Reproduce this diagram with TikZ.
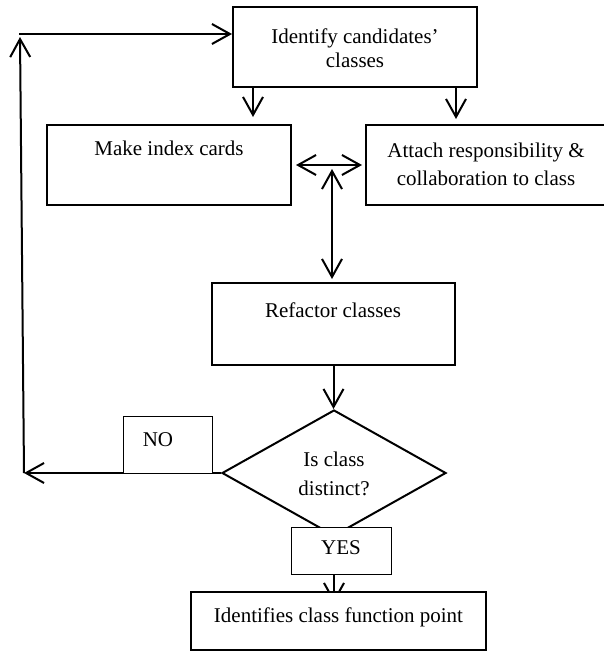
\documentclass[tikz,border=0pt]{standalone}
\usepackage{fontspec}
\setmainfont{Liberation Serif}
\usetikzlibrary{arrows.meta,shapes.geometric}
\begin{document}
\begin{tikzpicture}[x=1pt,y=-1pt,
  box/.style={draw,line width=2pt,fill=white,inner sep=0pt,rectangle},
  lbl/.style={draw,line width=1pt,fill=white,inner sep=0pt,rectangle},
  txt/.style={inner sep=0pt,font=\fontsize{21}{24}\selectfont,align=center},
  arr/.style={line width=2pt,-{Straight Barb[length=18pt,width=20pt]}},
  darr/.style={line width=2pt,{Straight Barb[length=18pt,width=20pt]}-{Straight Barb[length=18pt,width=20pt]}}]
\useasboundingbox (0,0) rectangle (604,653);
% boxes
\node[box,minimum width=244pt,minimum height=80pt] (idc) at (355,47) {};
\node[box,minimum width=244pt,minimum height=80pt] (mic) at (169,165) {};
\node[box,minimum width=240pt,minimum height=80pt] (att) at (486,165) {};
\node[box,minimum width=243pt,minimum height=82pt] (ref) at (333.5,324) {};
\node[draw,diamond,line width=2pt,inner sep=0pt,minimum width=224pt,minimum height=126pt] (dia) at (334,473) {};
% free ends
\coordinate (tl) at (19,34);
\coordinate (lt) at (20,37);
\coordinate (bl) at (24,473);
\coordinate (d1) at (253,117);
\coordinate (d2) at (456,119);
\coordinate (v1) at (332,169);
\coordinate (ftip) at (334,603);
% connectors
\draw[arr] (bl) -- (lt);
\draw[arr] (tl) -- (tl -| idc.west);
\draw[arr] (idc.south -| d1) -- (d1);
\draw[arr] (idc.south -| d2) -- (d2);
\draw[darr,shorten <=4pt,shorten >=3pt] (mic.east) -- (att.west);
\draw[darr,shorten >=3pt] (v1) -- (v1 |- ref.north);
\draw[arr] (ref.south) -- (ref.south |- dia.north);
\draw[arr] (dia.west) -- (bl);
% labels on branches
\node[lbl,minimum width=89pt,minimum height=57pt] (no) at (167.5,444.5) {};
\node[lbl,minimum width=100pt,minimum height=47pt] (yes) at (341,550.5) {};
\draw[arr] (dia.south |- yes.south) -- (ftip);
\node[box,minimum width=295pt,minimum height=58pt] (fin) at (338.5,621) {};
% texts
\node[txt] (t1) at (355,48) {Identify candidates’\\classes};
\node[txt,anchor=base] (t2) at (169,155) {Make index cards};
\node[txt,font=\fontsize{21}{28}\selectfont] (t3) at (486,164) {Attach responsibility \&\\collaboration to class};
\node[txt,anchor=base] (t4) at (333,317) {Refactor classes};
\node[txt,font=\fontsize{21}{29}\selectfont] (t5) at (334,474) {Is class\\distinct?};
\node[txt,anchor=base] (t6) at (158,446) {NO};
\node[txt,anchor=base] (t7) at (341,554) {YES};
\node[txt,anchor=base] (t8) at (338.5,622) {Identifies class function point};
\end{tikzpicture}
\end{document}
